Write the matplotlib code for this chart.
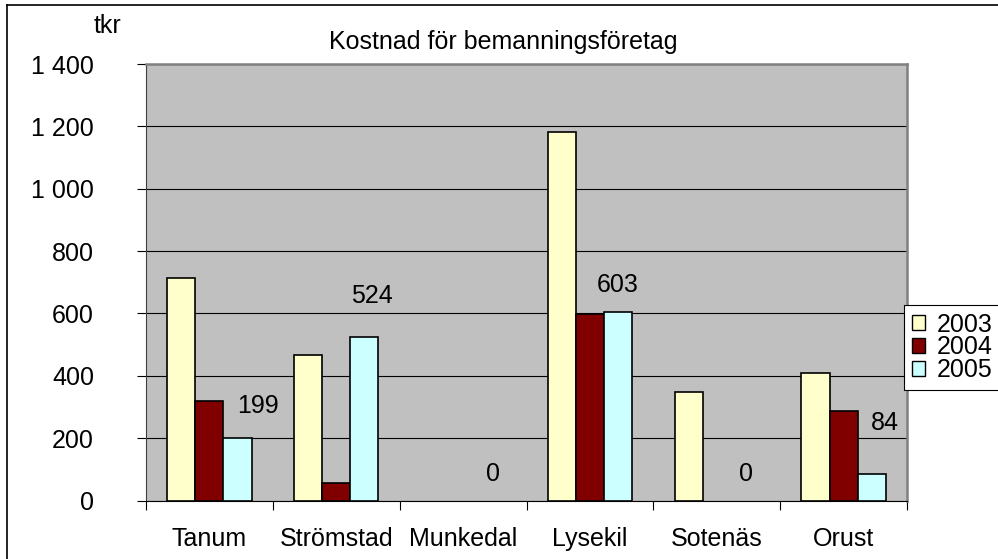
import matplotlib.pyplot as plt
import numpy as np
from matplotlib.lines import Line2D
from matplotlib.patches import Patch

plt.rcParams['font.family'] = ['Liberation Sans', 'DejaVu Sans']

kommuner = ['Tanum', 'Strömstad', 'Munkedal', 'Lysekil', 'Sotenäs', 'Orust']
years = ['2003', '2004', '2005']
v2003 = [715, 467, 0, 1183, 349, 410]
v2004 = [320, 56, 0, 599, 0, 286]
v2005 = [199, 524, 0, 603, 0, 84]
yticks = [0, 200, 400, 600, 800, 1000, 1200, 1400]
ytick_labels = ['0', '200', '400', '600', '800', '1 000', '1 200', '1 400']

colors = ['#FFFFCC', '#800000', '#CCFFFF']
# label placement (moved by hand in the original), relative to bar center/top
lab_dx = [0.16, 0.06, 0.01, 0.0, 0.01, 0.106]
lab_dy = [103, 133, 85, 88, 85, 166]

fs = 18
fig = plt.figure(figsize=(9.98, 5.59), dpi=100)
ax = fig.add_axes([146/998, 1 - 500.5/559, 761/998, 436.5/559])
ax.set_facecolor('#C0C0C0')

x = np.arange(len(kommuner))
w = 0.222
for k, vals in enumerate([v2003, v2004, v2005]):
    lw = [1.2 if v > 0 else 0 for v in vals]
    ax.bar(x + (k - 1) * w, vals, w, color=colors[k], edgecolor='black',
           linewidth=lw, zorder=3, label=years[k])

for i, v in enumerate(v2005):
    ax.text(x[i] + w + lab_dx[i], v + lab_dy[i], str(v), fontsize=fs,
            ha='center', va='center', zorder=4)

ax.set_xlim(-0.5, 5.5)
ax.set_ylim(0, 1400)
ax.set_yticks(yticks)
ax.set_yticklabels(ytick_labels, fontsize=fs)
ax.tick_params(axis='y', length=6.5, width=0.8, pad=31)
ax.yaxis.grid(True, color='black', linewidth=0.8, zorder=1)
ax.set_axisbelow(True)

ax.set_xticks(x)
ax.set_xticklabels(kommuner, fontsize=fs)
ax.set_xticks(np.arange(-0.5, 6, 1), minor=True)
ax.tick_params(axis='x', which='major', length=0, pad=19)
ax.tick_params(axis='x', which='minor', length=6.5, width=0.8)

for s in ['top', 'right']:
    ax.spines[s].set_color('#808080')
    ax.spines[s].set_linewidth(1.8)
ax.spines['left'].set_color('#404040')
ax.spines['bottom'].set_color('black')

fig.text(107/998, 1 - 26/559, 'tkr', fontsize=fs, ha='center', va='center')
fig.text(503/998, 1 - 42/559, 'Kostnad för bemanningsföretag', fontsize=fs,
         ha='center', va='center')

handles = [Patch(facecolor=c, edgecolor='black', linewidth=1.0) for c in colors]
leg = fig.legend(handles, years, loc='upper left',
                 bbox_to_anchor=(904/998, 1 - 305/559), fontsize=fs,
                 frameon=True, fancybox=False, framealpha=1,
                 edgecolor='black', handlelength=0.55, handleheight=0.55,
                 handletextpad=0.45, labelspacing=-0.05, borderpad=0.3,
                 borderaxespad=0)
leg.get_frame().set_linewidth(0.8)

fig.add_artist(Line2D([7/998, 7/998], [0, 1 - 5/559], color='black', linewidth=1.2))
fig.add_artist(Line2D([7/998, 1], [1 - 5/559, 1 - 5/559], color='black', linewidth=1.2))

fig.savefig('out.png', dpi=100)
